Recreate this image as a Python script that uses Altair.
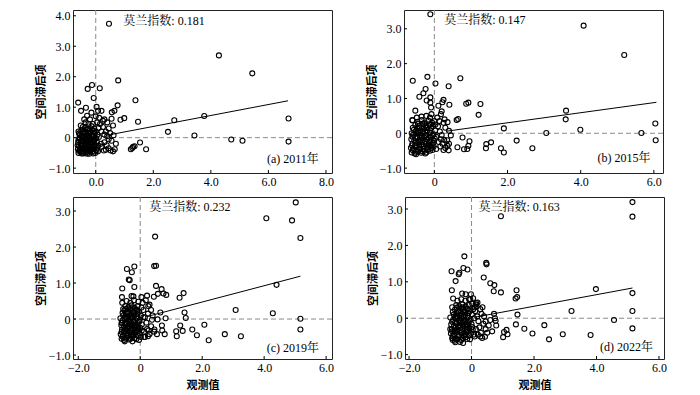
import altair as alt
import pandas as pd

# ---------------- data ----------------
a_pts = [
    (0.46, 3.74), (4.28, 2.70), (5.44, 2.11), (0.78, 1.88), (-0.13, 1.73), (-0.28, 1.60), (0.14, 1.62),
    (-0.07, 1.30), (-0.61, 1.15), (1.38, 1.23), (0.76, 1.06), (-0.51, 0.88), (-0.34, 0.98), (0.03, 1.01),
    (0.08, 0.88), (0.20, 0.88), (-0.15, 0.82), (0.65, 0.88), (0.56, 0.83), (0.99, 0.64), (1.47, 0.52),
    (0.86, 0.59), (2.73, 0.57), (3.77, 0.71), (6.70, 0.63), (2.51, 0.19), (3.43, 0.07), (4.71, -0.06),
    (5.10, -0.10), (6.70, -0.13), (1.54, -0.16), (1.75, -0.38), (1.30, -0.30), (1.22, -0.38), (1.35, -0.28),
    (1.27, -0.34),
    (0.15, 0.45), (0.25, 0.35), (0.30, 0.60), (0.35, 0.20), (0.40, 0.50), (0.45, 0.30), (0.50, 0.15),
    (0.55, 0.62), (0.60, 0.40), (0.20, -0.30), (0.30, -0.15), (0.35, -0.40), (0.45, -0.35), (0.52, -0.42),
    (0.55, -0.10), (0.60, -0.45), (0.66, -0.38), (0.40, 0.05), (0.20, 0.20), (0.25, 0.55), (0.12, 0.65),
    (0.05, 0.50), (-0.10, 0.45), (-0.20, 0.60), (-0.35, 0.50), (-0.45, 0.35), (-0.30, 0.72), (-0.15, 0.38),
    (-0.05, 0.30), (0.00, 0.70), (0.08, -0.45), (-0.25, 0.45), (0.30, 0.10), (0.45, -0.05), (0.62, 0.08),
    (0.70, -0.20), (0.28, -0.42), (0.18, -0.20), (-0.52, 0.40), (-0.40, 0.60), (0.10, 0.32), (0.38, -0.25),
    (-0.60, -0.50), (-0.52, -0.47), (-0.43, -0.52), (-0.33, -0.49), (-0.22, -0.53), (-0.12, -0.46), (-0.02, -0.50),
    (-0.62, -0.38), (-0.55, -0.42), (-0.46, -0.36), (-0.37, -0.41), (-0.27, -0.35), (-0.18, -0.40), (-0.08, -0.37),
    (0.03, -0.41), (-0.58, -0.28), (-0.49, -0.25), (-0.41, -0.31), (-0.31, -0.24), (-0.21, -0.29), (-0.11, -0.22),
    (-0.01, -0.30), (0.09, -0.26), (-0.61, -0.15), (-0.53, -0.18), (-0.44, -0.12), (-0.35, -0.17), (-0.25, -0.11),
    (-0.16, -0.16), (-0.06, -0.10), (0.04, -0.14), (-0.57, -0.03), (-0.48, 0.02), (-0.39, -0.05), (-0.29, 0.01),
    (-0.19, -0.04), (-0.09, 0.03), (0.01, -0.02), (0.11, 0.02), (-0.55, 0.10), (-0.45, 0.14), (-0.36, 0.08),
    (-0.26, 0.13), (-0.14, 0.09), (-0.04, 0.15), (0.06, 0.10), (-0.50, 0.24), (-0.40, 0.21), (-0.31, 0.27),
    (-0.21, 0.22), (-0.11, 0.25), (0.00, 0.20), (-0.47, -0.45), (-0.38, -0.20), (-0.28, -0.45), (-0.15, -0.30),
    (-0.05, -0.22), (-0.42, 0.05), (-0.33, -0.08), (-0.23, 0.05), (-0.12, -0.05), (-0.56, 0.00), (-0.50, -0.35),
    (-0.17, 0.16), (-0.36, 0.32), (-0.60, 0.20),
    (-0.58, -0.44), (-0.49, -0.52), (-0.40, -0.46), (-0.30, -0.53), (-0.19, -0.45), (-0.09, -0.52), (-0.63, -0.25),
    (-0.54, -0.33), (-0.45, -0.22), (-0.35, -0.30), (-0.26, -0.21), (-0.16, -0.35), (-0.06, -0.27), (-0.60, -0.08),
    (-0.51, -0.11), (-0.42, 0.00), (-0.32, -0.12), (-0.22, -0.09), (-0.13, -0.14), (-0.03, -0.06), (-0.58, 0.14),
    (-0.48, 0.06), (-0.39, 0.16), (-0.29, 0.07), (-0.19, 0.15), (-0.08, 0.07), (-0.44, 0.27), (-0.25, 0.30),
    (-0.07, 0.22), (0.05, -0.35),
]

b_pts = [
    (-0.11, 3.42), (4.08, 3.09), (5.19, 2.25), (-0.59, 1.51), (-0.19, 1.62), (0.03, 1.43), (0.39, 1.35),
    (0.71, 1.58), (-0.24, 1.27), (-0.30, 1.15), (-0.41, 1.05), (-0.11, 1.03), (-0.11, 0.88), (-0.09, 0.74),
    (-0.21, 0.94), (0.25, 0.96), (0.22, 0.89), (0.11, 0.79), (0.41, 0.82), (0.87, 0.85), (0.93, 0.88),
    (1.26, 0.84), (0.20, 0.63), (1.21, 0.53), (0.65, 0.41), (0.61, 0.38), (-0.52, 0.65), (-0.60, 0.38),
    (3.60, 0.65), (3.59, 0.40), (6.04, 0.28), (1.90, 0.14), (3.99, 0.10), (3.06, 0.01), (5.66, 0.01),
    (6.05, -0.20), (2.25, -0.21), (2.68, -0.43), (1.55, -0.26), (1.41, -0.43), (1.42, -0.31), (1.82, -0.43),
    (1.90, -0.55), (0.96, -0.23), (0.93, -0.36), (0.90, -0.45), (0.81, -0.46), (0.63, -0.40), (0.77, -0.12),
    (0.39, -0.49), (0.36, -0.36), (0.16, -0.38), (0.45, -0.06), (0.30, 0.16), (0.40, 0.07), (0.14, 0.35),
    (0.36, 0.32), (0.27, -0.19), (0.18, -0.17),
    (-0.62, -0.55), (-0.54, -0.58), (-0.45, -0.52), (-0.36, -0.56), (-0.27, -0.50), (-0.18, -0.47), (-0.08, -0.42),
    (-0.64, -0.42), (-0.57, -0.45), (-0.48, -0.40), (-0.39, -0.44), (-0.30, -0.38), (-0.21, -0.41), (-0.11, -0.35),
    (-0.02, -0.38), (-0.60, -0.30), (-0.51, -0.27), (-0.42, -0.33), (-0.33, -0.26), (-0.24, -0.30), (-0.14, -0.24),
    (-0.04, -0.28), (-0.63, -0.17), (-0.55, -0.20), (-0.46, -0.14), (-0.37, -0.19), (-0.28, -0.12), (-0.19, -0.17),
    (-0.09, -0.11), (0.01, -0.15), (-0.58, -0.04), (-0.49, 0.01), (-0.40, -0.06), (-0.31, 0.00), (-0.22, -0.05),
    (-0.12, 0.02), (-0.02, -0.03), (-0.56, 0.10), (-0.47, 0.14), (-0.38, 0.08), (-0.29, 0.13), (-0.19, 0.09),
    (-0.09, 0.14), (0.02, 0.08), (-0.52, 0.24), (-0.42, 0.21), (-0.33, 0.27), (-0.24, 0.22), (-0.14, 0.26),
    (-0.04, 0.20), (-0.60, 0.37), (-0.46, 0.33), (-0.35, 0.38), (-0.26, 0.31), (-0.16, 0.36), (-0.06, 0.30),
    (-0.50, -0.60), (-0.40, -0.25), (-0.25, -0.58), (-0.15, -0.32), (-0.05, -0.48), (-0.45, 0.05), (-0.35, -0.08),
    (-0.25, 0.05), (-0.10, -0.20), (-0.62, 0.00), (-0.52, -0.35), (-0.20, 0.18), (-0.30, -0.45), (-0.12, 0.45),
    (-0.22, 0.50), (-0.35, 0.48), (-0.48, 0.45), (0.00, 0.35), (0.05, -0.45), (0.03, 0.25), (-0.08, 0.55),
    (0.10, 0.20), (0.15, 0.05), (0.20, -0.05), (0.25, 0.30), (0.12, -0.25), (0.22, -0.30), (0.30, -0.42),
    (0.28, 0.40), (0.08, 0.45), (0.18, 0.55), (0.05, -0.10), (0.35, -0.20), (0.25, -0.48), (0.40, -0.30),
    (-0.59, -0.49), (-0.50, -0.53), (-0.41, -0.48), (-0.32, -0.52), (-0.22, -0.55), (-0.12, -0.50), (-0.61, -0.35),
    (-0.53, -0.37), (-0.44, -0.24), (-0.35, -0.33), (-0.26, -0.22), (-0.17, -0.36), (-0.07, -0.33), (-0.60, -0.10),
    (-0.52, -0.13), (-0.43, 0.00), (-0.34, -0.13), (-0.25, -0.08), (-0.15, -0.12), (-0.05, -0.07), (-0.59, 0.16),
    (-0.50, 0.07), (-0.41, 0.15), (-0.32, 0.06), (-0.22, 0.15), (-0.12, 0.08), (-0.45, 0.27), (-0.28, 0.27),
    (-0.10, 0.25), (-0.02, -0.20),
]

c_pts = [
    (5.02, 3.24), (4.07, 2.80), (4.90, 2.74), (5.17, 2.25), (0.48, 2.29), (0.51, 1.48), (0.45, 1.47),
    (-0.19, 1.46), (-0.43, 1.39), (-0.27, 1.30), (-0.34, 1.08), (-0.37, 1.10), (-0.19, 0.89), (-0.58, 0.85),
    (0.51, 0.92), (0.69, 0.83), (0.75, 0.71), (0.84, 0.67), (0.57, 0.70), (0.44, 0.62), (0.22, 0.65),
    (0.04, 0.61), (-0.59, 0.61), (-0.28, 0.64), (-0.22, 0.63), (1.40, 0.72), (1.27, 0.59), (4.40, 0.95),
    (3.08, 0.25), (4.28, 0.16), (5.17, 0.01), (5.17, -0.29), (1.43, 0.18), (1.47, 0.03), (0.82, 0.02),
    (0.65, 0.18), (0.26, 0.36), (2.07, -0.16), (1.68, -0.29), (1.29, -0.18), (1.37, -0.33), (1.16, -0.34),
    (1.18, -0.48), (1.83, -0.45), (2.21, -0.59), (2.73, -0.42), (3.25, -0.48), (0.79, -0.42), (0.70, -0.18),
    (0.71, -0.32), (0.54, -0.42), (0.46, -0.29), (0.56, -0.01), (0.38, -0.02), (0.27, -0.32), (0.13, -0.50),
    (-0.60, -0.55), (-0.52, -0.58), (-0.44, -0.52), (-0.36, -0.57), (-0.27, -0.50), (-0.18, -0.53), (-0.08, -0.47),
    (0.02, -0.50), (-0.63, -0.42), (-0.55, -0.45), (-0.47, -0.40), (-0.39, -0.44), (-0.30, -0.38), (-0.21, -0.42),
    (-0.12, -0.36), (-0.02, -0.40), (-0.59, -0.30), (-0.50, -0.27), (-0.42, -0.32), (-0.33, -0.26), (-0.24, -0.30),
    (-0.15, -0.24), (-0.05, -0.28), (0.05, -0.32), (-0.61, -0.17), (-0.53, -0.20), (-0.45, -0.14), (-0.36, -0.19),
    (-0.27, -0.12), (-0.18, -0.17), (-0.08, -0.11), (-0.57, -0.04), (-0.48, 0.01), (-0.40, -0.06), (-0.31, 0.00),
    (-0.22, -0.05), (-0.12, 0.02), (-0.02, -0.03), (-0.55, 0.10), (-0.46, 0.14), (-0.38, 0.08), (-0.29, 0.13),
    (-0.19, 0.09), (-0.09, 0.14), (0.02, 0.10), (-0.51, 0.24), (-0.42, 0.21), (-0.33, 0.27), (-0.24, 0.22),
    (-0.14, 0.26), (-0.04, 0.20), (-0.48, 0.36), (-0.38, 0.33), (-0.28, 0.38), (-0.18, 0.31), (-0.08, 0.36),
    (0.04, 0.32), (-0.50, -0.62), (-0.40, -0.22), (-0.25, -0.62), (-0.14, -0.30), (-0.04, -0.58), (-0.44, 0.05),
    (-0.34, -0.08), (-0.24, 0.05), (-0.10, -0.20), (-0.64, 0.02), (-0.52, -0.35), (-0.20, 0.18), (-0.30, -0.45),
    (-0.58, 0.45), (-0.44, 0.50), (-0.32, 0.45), (-0.20, 0.52), (-0.06, 0.48), (-0.55, 0.28), (-0.60, -0.10),
    (0.10, 0.25), (0.15, 0.05), (0.20, -0.10), (0.25, 0.15), (0.12, -0.35), (0.22, -0.28), (0.30, -0.42),
    (0.30, 0.40), (0.08, 0.45), (0.18, 0.52), (0.05, -0.15), (0.35, -0.20), (0.25, -0.48), (0.40, 0.10),
    (0.45, -0.35), (0.35, 0.25), (0.15, -0.50), (0.10, 0.05),
    (-0.57, -0.49), (-0.48, -0.54), (-0.40, -0.47), (-0.31, -0.55), (-0.22, -0.46), (-0.13, -0.56), (-0.60, -0.36),
    (-0.51, -0.34), (-0.43, -0.24), (-0.34, -0.32), (-0.25, -0.20), (-0.16, -0.37), (-0.06, -0.33), (-0.59, -0.11),
    (-0.50, -0.12), (-0.42, 0.02), (-0.33, -0.13), (-0.23, -0.09), (-0.14, -0.15), (-0.04, -0.08), (-0.57, 0.17),
    (-0.48, 0.07), (-0.40, 0.17), (-0.30, 0.06), (-0.21, 0.16), (-0.10, 0.07), (-0.45, 0.28), (-0.26, 0.30),
    (-0.10, 0.24), (0.00, -0.24),
]

d_pts = [
    (5.15, 3.19), (5.15, 2.79), (0.94, 2.80), (-0.23, 1.70), (0.47, 1.52), (0.48, 1.48), (-0.64, 1.29),
    (-0.26, 1.38), (-0.13, 1.34), (-0.39, 1.25), (-0.41, 1.21), (0.39, 1.12), (-0.51, 1.02), (0.60, 0.96),
    (0.73, 0.91), (0.94, 0.71), (0.71, 0.74), (1.44, 0.77), (1.41, 0.54), (1.46, 0.58), (3.98, 0.80),
    (5.15, 0.69), (-0.63, 0.77), (-0.59, 0.54), (3.20, 0.20), (5.15, 0.20), (1.47, 0.10), (0.72, 0.12),
    (4.56, -0.05), (5.15, -0.28), (2.33, -0.19), (1.69, -0.29), (1.95, -0.42), (1.42, -0.17), (2.48, -0.58),
    (2.92, -0.44), (3.81, -0.46), (1.12, -0.32), (1.15, -0.44), (1.04, -0.38), (1.01, -0.52), (0.79, -0.20),
    (0.75, 0.00), (0.77, -0.07), (0.66, -0.36), (0.45, -0.09), (0.43, -0.51), (0.34, -0.54), (-0.30, 0.68),
    (-0.19, 0.66), (-0.02, 0.66), (-0.04, 0.52), (0.13, 0.38), (0.19, 0.43), (0.16, 0.32),
    (-0.62, -0.55), (-0.54, -0.62), (-0.46, -0.58), (-0.37, -0.65), (-0.28, -0.55), (-0.19, -0.52), (-0.09, -0.48),
    (-0.66, -0.42), (-0.57, -0.45), (-0.49, -0.40), (-0.40, -0.46), (-0.31, -0.39), (-0.22, -0.43), (-0.12, -0.37),
    (-0.02, -0.42), (0.08, -0.45), (-0.63, -0.30), (-0.54, -0.27), (-0.45, -0.33), (-0.36, -0.26), (-0.27, -0.30),
    (-0.17, -0.24), (-0.07, -0.28), (0.04, -0.31), (-0.65, -0.17), (-0.56, -0.20), (-0.47, -0.14), (-0.38, -0.19),
    (-0.29, -0.12), (-0.20, -0.17), (-0.10, -0.11), (0.00, -0.16), (-0.59, -0.04), (-0.50, 0.01), (-0.41, -0.06),
    (-0.32, 0.00), (-0.23, -0.05), (-0.13, 0.02), (-0.03, -0.03), (0.08, 0.00), (-0.57, 0.10), (-0.48, 0.14),
    (-0.39, 0.08), (-0.30, 0.13), (-0.20, 0.09), (-0.10, 0.14), (0.01, 0.10), (-0.53, 0.24), (-0.43, 0.21),
    (-0.34, 0.27), (-0.25, 0.22), (-0.15, 0.26), (-0.05, 0.20), (0.06, 0.25), (-0.49, 0.36), (-0.39, 0.33),
    (-0.29, 0.38), (-0.19, 0.32), (-0.09, 0.36), (0.02, 0.40), (-0.52, -0.66), (-0.42, -0.22), (-0.27, -0.68),
    (-0.15, -0.32), (-0.05, -0.58), (-0.46, 0.05), (-0.35, -0.08), (-0.25, 0.05), (-0.12, -0.20), (-0.68, 0.02),
    (-0.55, -0.35), (-0.22, 0.18), (-0.32, -0.50), (-0.45, 0.48), (-0.33, 0.52), (-0.20, 0.48), (-0.08, 0.52),
    (-0.62, 0.30), (-0.68, -0.30), (-0.60, -0.60), (0.10, 0.30),
    (0.12, 0.20), (0.18, 0.05), (0.22, -0.08), (0.28, 0.25), (0.14, -0.30), (0.25, -0.25), (0.30, -0.40),
    (0.32, 0.12), (0.15, 0.42), (0.20, -0.45), (0.38, -0.15), (0.28, -0.50), (0.45, -0.30), (0.40, 0.05),
    (0.50, -0.40), (0.55, -0.20), (0.60, -0.05), (0.35, 0.30), (0.10, -0.50), (0.05, 0.55),
    (-0.60, -0.50), (-0.51, -0.56), (-0.42, -0.50), (-0.33, -0.60), (-0.24, -0.48), (-0.14, -0.57), (-0.62, -0.36),
    (-0.53, -0.35), (-0.44, -0.23), (-0.35, -0.33), (-0.26, -0.21), (-0.17, -0.37), (-0.07, -0.34), (-0.62, -0.10),
    (-0.53, -0.12), (-0.44, 0.01), (-0.35, -0.13), (-0.26, -0.09), (-0.16, -0.15), (-0.06, -0.08), (-0.60, 0.17),
    (-0.50, 0.07), (-0.42, 0.17), (-0.33, 0.06), (-0.23, 0.16), (-0.12, 0.07), (-0.47, 0.29), (-0.28, 0.30),
    (-0.12, 0.25), (0.02, -0.24),
]

# regression line end points (x, y)
a_line = [(0.40, 0.08), (6.68, 1.21)]
b_line = [(0.33, 0.06), (6.07, 0.89)]
c_line = [(0.22, 0.07), (5.17, 1.19)]
d_line = [(0.12, 0.03), (5.15, 0.83)]

moran_labels = ["莫兰指数: 0.181", "莫兰指数: 0.147", "莫兰指数: 0.232", "莫兰指数: 0.163"]
year_labels = ["(a) 2011年", "(b) 2015年", "(c) 2019年", "(d) 2022年"]
moran_pos = [(0.96, 3.82), (0.27, 3.24), (0.29, 3.10), (0.22, 3.05)]
year_pos = [(7.75, -0.69), (5.91, -0.71), (5.77, -0.81), (5.81, -0.80)]

x_domains = [(-0.79, 8.21), (-0.83, 6.25), (-2.17, 6.19), (-2.13, 6.16)]
y_domains = [(-1.16, 4.19), (-1.14, 3.54), (-1.11, 3.39), (-1.12, 3.33)]
x_ticks = [[0, 2, 4, 6, 8], [0, 2, 4, 6], [-2, 0, 2, 4, 6], [-2, 0, 2, 4, 6]]
y_ticks = [[-1, 0, 1, 2, 3, 4], [-1, 0, 1, 2, 3], [-1, 0, 1, 2, 3], [-1, 0, 1, 2, 3]]

SERIF = "Liberation Serif, Noto Serif CJK SC, Noto Sans CJK SC"
CJK = "Noto Sans CJK SC"
W = 259
H_TOP = 163
H_BOT = 162


def panel(i, pts, line, width, height, xtitle, zero_fmt):
    xs = alt.Scale(domain=list(x_domains[i]), nice=False, zero=False)
    ys = alt.Scale(domain=list(y_domains[i]), nice=False, zero=False)
    xexpr = ("format(datum.value, '.1f')" if zero_fmt
             else "datum.value == 0 ? '0' : format(datum.value, '.1f')")
    yexpr = "datum.value == 0 ? '0' : format(datum.value, '.1f')"
    xaxis = alt.Axis(values=x_ticks[i], labelExpr=xexpr, title=xtitle, grid=False, ticks=False,
                     domain=False, labelFont=SERIF, labelFontSize=12, labelColor="black",
                     labelPadding=3, titleFont=CJK, titleFontSize=11, titleFontWeight="bold",
                     titleColor="black", titlePadding=6, labelFlush=False)
    yaxis = alt.Axis(values=y_ticks[i], labelExpr=yexpr, title="空间滞后项", grid=False, ticks=False,
                     domain=False, labelFont=SERIF, labelFontSize=12, labelColor="black",
                     labelPadding=3, titleFont=CJK, titleFontSize=11, titleFontWeight="bold",
                     titleColor="black", titlePadding=2, labelFlush=False)

    def X(f):
        return alt.X(f"{f}:Q", scale=xs, axis=xaxis)

    def Y(f):
        return alt.Y(f"{f}:Q", scale=ys, axis=yaxis)

    df = pd.DataFrame(pts, columns=["x", "y"])
    ldf = pd.DataFrame(line, columns=["x", "y"])
    zx = pd.DataFrame({"x": [0.0]})
    zy = pd.DataFrame({"y": [0.0]})
    mdf = pd.DataFrame({"x": [moran_pos[i][0]], "y": [moran_pos[i][1]], "t": [moran_labels[i]]})
    ydf = pd.DataFrame({"x": [year_pos[i][0]], "y": [year_pos[i][1]], "t": [year_labels[i]]})
    xt = pd.DataFrame({"x": x_ticks[i]})
    yt = pd.DataFrame({"y": y_ticks[i]})

    vrule = alt.Chart(zx).mark_rule(color="#8a8a8a", strokeDash=[5, 3], strokeWidth=1).encode(x=X("x"))
    hrule = alt.Chart(zy).mark_rule(color="#8a8a8a", strokeDash=[5, 3], strokeWidth=1).encode(y=Y("y"))
    xtick = alt.Chart(xt).mark_rule(color="black", strokeWidth=1).encode(
        x=X("x"), y=alt.value(height), y2=alt.value(height - 3))
    ytick = alt.Chart(yt).mark_rule(color="black", strokeWidth=1).encode(
        y=Y("y"), x=alt.value(0), x2=alt.value(3))
    lin = alt.Chart(ldf).mark_line(color="black", strokeWidth=1).encode(x=X("x"), y=Y("y"))
    dots = alt.Chart(df).mark_point(shape="circle", filled=False, size=25, color="black",
                                    strokeWidth=1.1, opacity=1).encode(x=X("x"), y=Y("y"))
    t1 = alt.Chart(mdf).mark_text(align="left", baseline="middle", font=SERIF, fontSize=12,
                                  color="black").encode(x=X("x"), y=Y("y"), text="t:N")
    t2 = alt.Chart(ydf).mark_text(align="right", baseline="middle", font=SERIF, fontSize=12,
                                  color="black").encode(x=X("x"), y=Y("y"), text="t:N")
    return alt.layer(vrule, hrule, lin, dots, xtick, ytick, t1, t2).properties(width=width, height=height)


pa = panel(0, a_pts, a_line, W, H_TOP, None, True)
pb = panel(1, b_pts, b_line, W, H_TOP, None, False)
pc = panel(2, c_pts, c_line, W, H_BOT, "观测值", False)
pd_ = panel(3, d_pts, d_line, W, H_BOT, "观测值", False)

chart = alt.vconcat(
    alt.hconcat(pa, pb, spacing=31),
    alt.hconcat(pc, pd_, spacing=31),
    spacing=8,
).properties(
    padding={"left": 26, "top": 0, "right": 0, "bottom": 0},
    background="white",
).configure_view(stroke="#222", strokeWidth=1)

chart.save("out.html", embed_options={"renderer": "svg", "actions": False})
